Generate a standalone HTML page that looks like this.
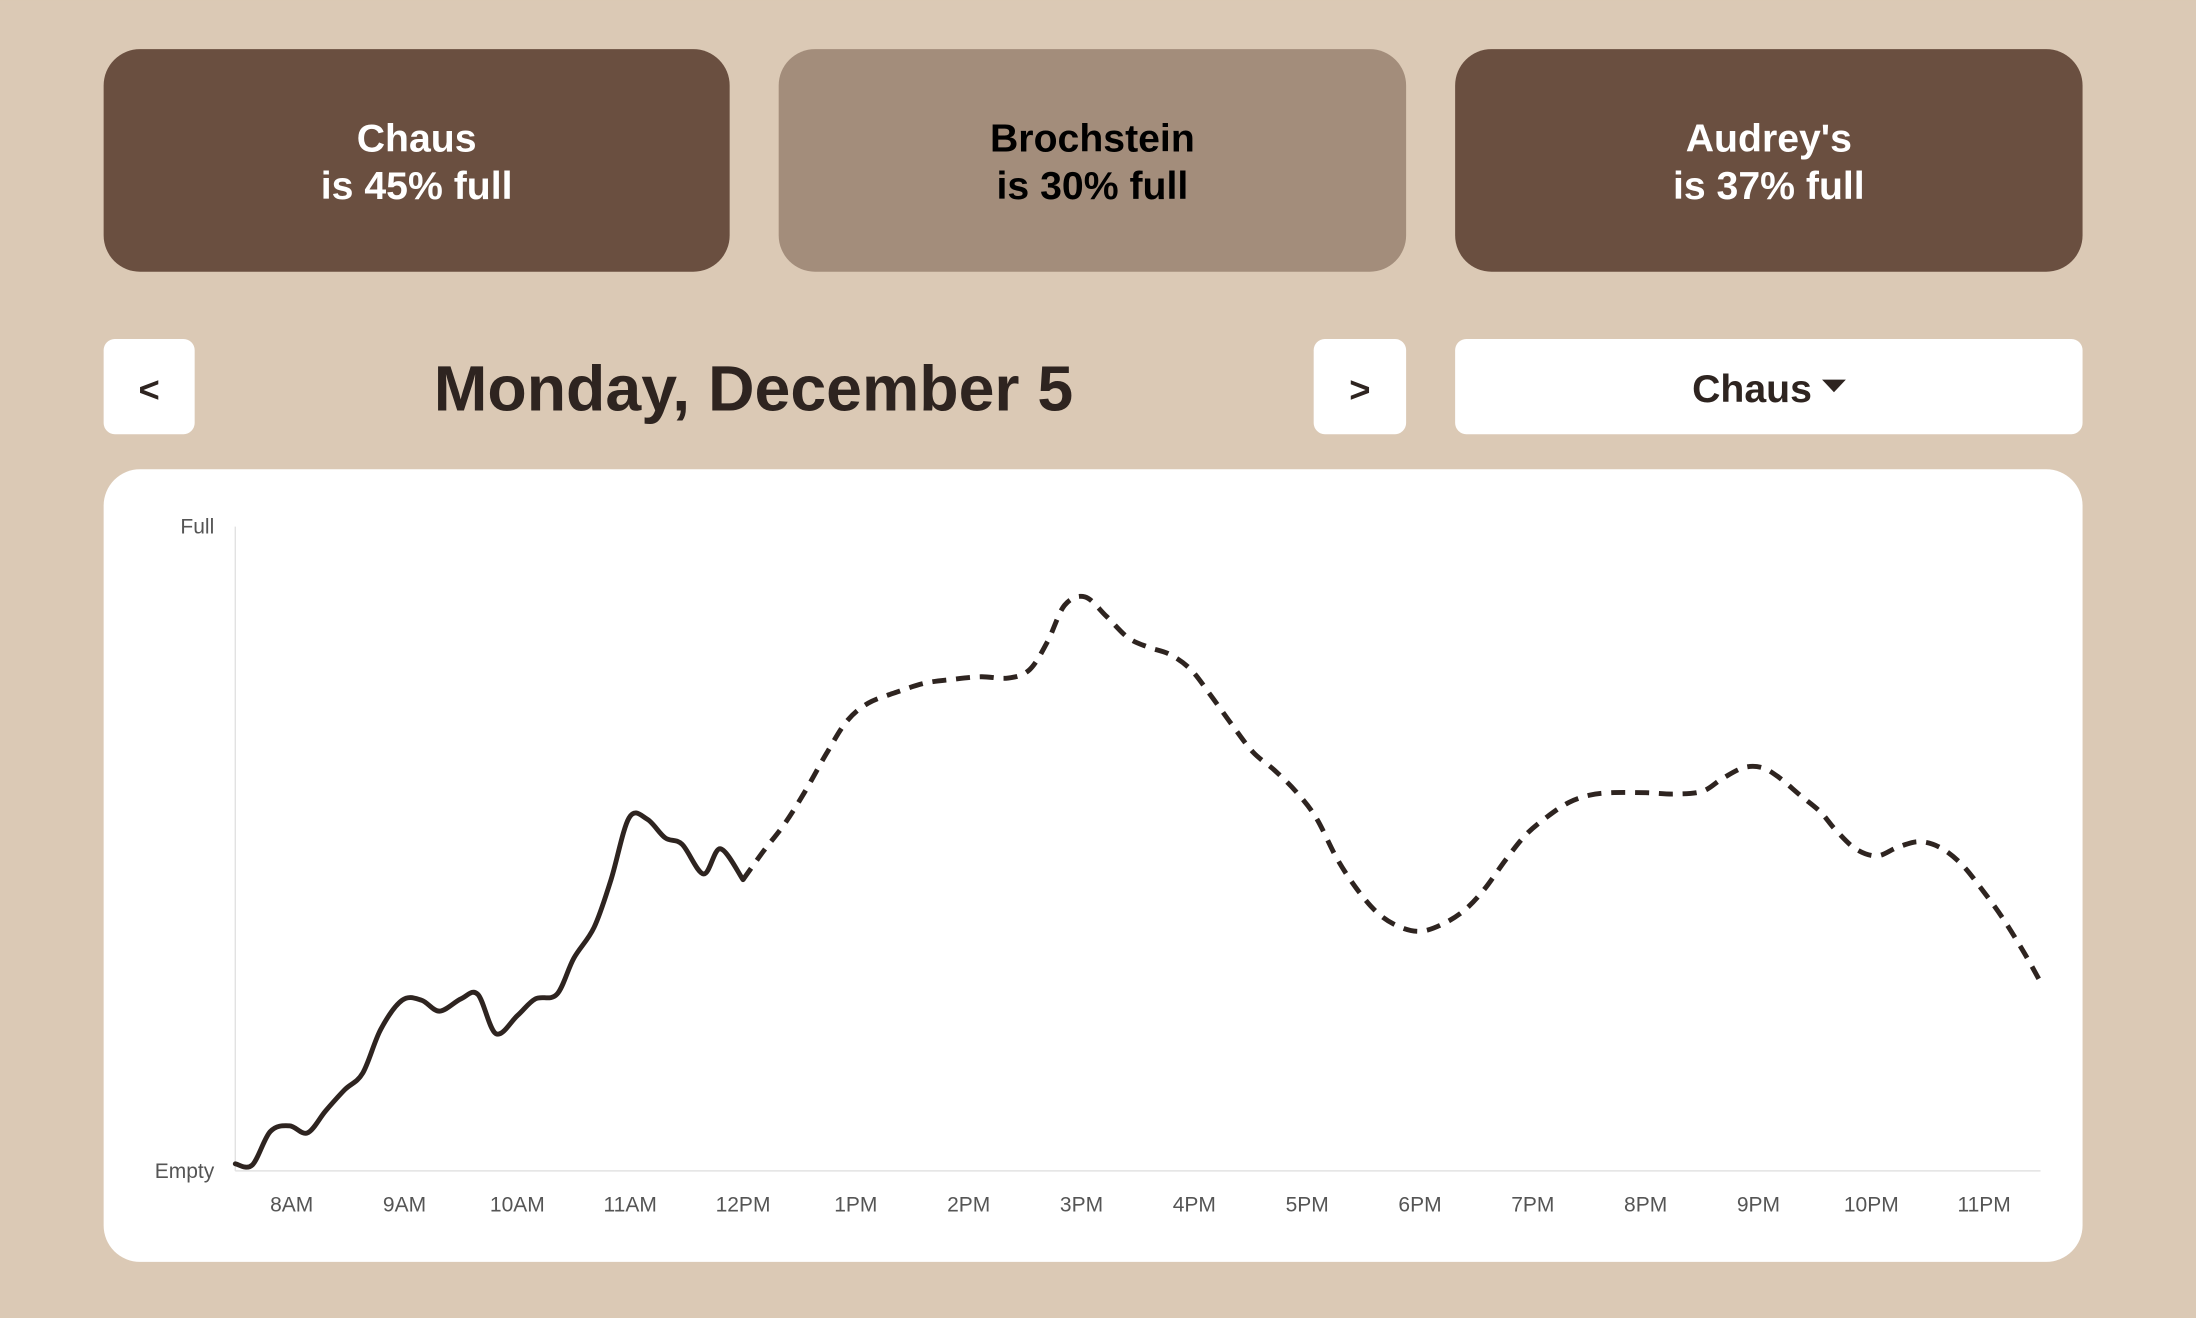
<!DOCTYPE html>
<html><head><meta charset="utf-8"><style>
html,body{margin:0;padding:0;background:#dbc9b5;}
svg{display:block;font-family:"Liberation Sans",sans-serif;}
</style></head><body>
<svg width="2196" height="1318" viewBox="0 0 1568 941" xmlns="http://www.w3.org/2000/svg">
<rect width="1568" height="941" fill="#dbc9b5"/>
<g>
<rect x="74" y="35" width="447" height="159" rx="26" fill="#6a4f40"/>
<text x="297.5" y="108" text-anchor="middle" font-size="28" font-weight="bold" fill="#fff">Chaus</text>
<text x="297.5" y="142" text-anchor="middle" font-size="28" font-weight="bold" fill="#fff">is 45% full</text>
</g>
<g>
<rect x="556" y="35" width="448" height="159" rx="26" fill="#a38d7b"/>
<text x="780" y="108" text-anchor="middle" font-size="28" font-weight="bold" fill="#000">Brochstein</text>
<text x="780" y="142" text-anchor="middle" font-size="28" font-weight="bold" fill="#000">is 30% full</text>
</g>
<g>
<rect x="1039" y="35" width="448" height="159" rx="26" fill="#6a4f40"/>
<text x="1263" y="108" text-anchor="middle" font-size="28" font-weight="bold" fill="#fff">Audrey's</text>
<text x="1263" y="142" text-anchor="middle" font-size="28" font-weight="bold" fill="#fff">is 37% full</text>
</g>
<g>
<rect x="74" y="242" width="65" height="68" rx="8" fill="#fff"/>
<text x="106.5" y="287" text-anchor="middle" font-size="26" font-weight="bold" fill="#2e2420">&lt;</text>
</g>
<text x="538" y="293" text-anchor="middle" font-size="46" font-weight="bold" fill="#2e2420">Monday, December 5</text>
<g>
<rect x="938" y="242" width="66" height="68" rx="8" fill="#fff"/>
<text x="971" y="287" text-anchor="middle" font-size="26" font-weight="bold" fill="#2e2420">&gt;</text>
</g>
<g>
<rect x="1039" y="242" width="448" height="68" rx="8" fill="#fff"/>
<text x="1251" y="287" text-anchor="middle" font-size="28" font-weight="bold" fill="#2e2420">Chaus</text>
<path d="M1301 271 L1318 271 L1309.5 280 Z" fill="#2e2420"/>
</g>
<rect x="74" y="335" width="1413" height="566" rx="26" fill="#fff"/>
<g id="chart"></g>
</svg>
<script>
const hourTicks=["8AM","9AM","10AM","11AM","12PM","1PM","2PM","3PM","4PM","5PM","6PM","7PM","8PM","9PM","10PM","11PM"];
const tickHours=[8,9,10,11,12,13,14,15,16,17,18,19,20,21,22,23];
const pastHours=[7.5,7.65,7.81,7.98,8.14,8.3,8.47,8.63,8.79,8.98,9.15,9.31,9.5,9.65,9.81,10,10.16,10.35,10.5,10.68,10.83,10.99,11.15,11.31,11.46,11.65,11.8,12];
const pastValues=[1.1,0.9,6.1,7.0,5.9,9.3,12.6,15.2,22.0,26.5,26.5,24.8,26.7,27.4,21.3,24.1,26.7,27.4,33.0,37.8,45.2,54.8,54.6,51.7,50.7,46.1,50.0,45.2];
const forecastHours=[12,12.18,12.37,12.55,12.74,12.92,13.11,13.36,13.61,13.86,14.11,14.35,14.54,14.7,14.85,15.03,15.22,15.41,15.59,15.78,15.97,16.15,16.34,16.52,16.71,16.9,17.08,17.27,17.46,17.64,17.83,18.01,18.2,18.39,18.57,18.76,18.94,19.13,19.32,19.5,19.69,20,20.25,20.5,20.68,20.87,21.03,21.18,21.37,21.55,21.68,21.86,22.05,22.23,22.42,22.61,22.8,22.98,23.17,23.36,23.5];
const forecastValues=[45.2,49.6,53.9,58.9,64.8,69.8,72.6,74.3,75.7,76.3,76.7,76.5,77.8,82.2,87.8,89.1,86.1,82.8,81.3,80.2,77.8,73.7,69.1,65.0,62.2,58.9,54.8,48.3,43.3,39.8,37.8,37.2,38.3,40.4,43.7,48.3,52.2,55.0,57.2,58.3,58.7,58.7,58.5,58.9,60.9,62.6,62.6,61.1,58.3,55.7,53.0,50.0,48.9,50.2,51.1,50.2,47.6,43.7,39.1,33.7,29.3];
const NS="http://www.w3.org/2000/svg";
const g=document.getElementById('chart');
const x0=168,x1=1457,yTop=376,yBot=836,h0=7.5,h1=23.5;
const xs=h=>x0+(h-h0)/(h1-h0)*(x1-x0);
const ys=v=>yBot-v/100*(yBot-yTop);
function mk(t,a){const e=document.createElementNS(NS,t);for(const k in a)e.setAttribute(k,a[k]);g.appendChild(e);return e;}
const ya=mk('line',{x1:x0,y1:yTop,x2:x0,y2:yBot,stroke:'#e2e2e2','stroke-width':1});


const xa=mk('line',{x1:x0,y1:yBot,x2:x1,y2:yBot,stroke:'#e2e2e2','stroke-width':1});


const yl1=mk('text',{x:153,y:381,'text-anchor':'end','font-size':15,fill:'#555'});yl1.textContent='Full';


const yl2=mk('text',{x:153,y:841,'text-anchor':'end','font-size':15,fill:'#555'});yl2.textContent='Empty';


tickHours.forEach((h,i)=>{const t=mk('text',{x:xs(h),y:865,'text-anchor':'middle','font-size':15,fill:'#555'});t.textContent=hourTicks[i];

});
function path(hs,vs){const p=hs.map((h,i)=>[xs(h),ys(vs[i])]);let d='M'+p[0][0]+' '+p[0][1];
for(let i=0;i<p.length-1;i++){const a=p[i-1]||p[i],b=p[i],c=p[i+1],e=p[i+2]||c;
d+=' C'+(b[0]+(c[0]-a[0])/6)+' '+(b[1]+(c[1]-a[1])/6)+' '+(c[0]-(e[0]-b[0])/6)+' '+(c[1]-(e[1]-b[1])/6)+' '+c[0]+' '+c[1];}return d;}
const l1=mk('path',{d:path(pastHours,pastValues),fill:'none',stroke:'#2e2420','stroke-width':3.5,'stroke-linecap':'round'});


const l2=mk('path',{d:path(forecastHours,forecastValues),fill:'none',stroke:'#2e2420','stroke-width':3.5,'stroke-dasharray':'10 7'});


</script>
</body></html>
